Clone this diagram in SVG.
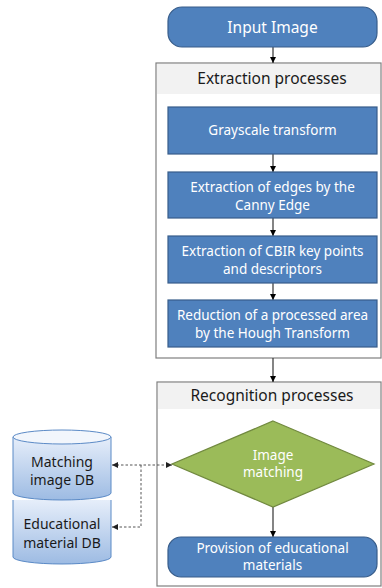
<svg xmlns="http://www.w3.org/2000/svg" width="382" height="588" viewBox="0 0 382 588">
  <defs>
    <linearGradient id="dbFill" x1="0" y1="0" x2="0" y2="1">
      <stop offset="0" stop-color="#e6eefa"/>
      <stop offset="1" stop-color="#9dbbe3"/>
    </linearGradient>
    <marker id="arr" viewBox="0 0 6 6" refX="6" refY="3" markerWidth="6" markerHeight="6" orient="auto-start-reverse" markerUnits="userSpaceOnUse">
      <path d="M0,0 L6,3 L0,6 Z" fill="#000"/>
    </marker>
    <marker id="arrD" viewBox="0 0 6 6" refX="6" refY="3" markerWidth="6" markerHeight="6" orient="auto-start-reverse" markerUnits="userSpaceOnUse">
      <path d="M0,0 L6,3 L0,6 Z" fill="#222"/>
    </marker>
  </defs>
  <style>
    text { font-family: "Noto Sans", "Open Sans", sans-serif; text-anchor: middle; }
    .step { fill: #4f81bd; stroke: #385d8a; stroke-width: 1.2; }
    .wt { fill: #ffffff; font-size: 13.5px; }
    .frame { fill: #ffffff; stroke: #7f7f7f; stroke-width: 1.2; }
    .band { fill: #f2f2f2; }
    .hd { fill: #1a1a1a; font-size: 15.5px; }
    .db { fill: url(#dbFill); stroke: #5b8ac6; stroke-width: 1; }
    .dk { fill: #1a1a1a; font-size: 14px; }
    .flow { stroke: #333; stroke-width: 1.2; fill: none; marker-end: url(#arr); }
    .dash { stroke: #555; stroke-width: 1; stroke-dasharray: 2.5 2; fill: none; }
  </style>

  <!-- containers -->
  <g id="extraction-frame">
    <rect class="frame" x="156" y="63" width="225" height="295"/>
    <rect class="band" x="157" y="64" width="223" height="30"/>
    <text class="hd" x="272" y="84">Extraction processes</text>
  </g>
  <g id="recognition-frame">
    <rect class="frame" x="157" y="382" width="224" height="204"/>
    <rect class="band" x="158" y="383" width="222" height="26"/>
    <text class="hd" x="272" y="401">Recognition processes</text>
  </g>

  <!-- connectors -->
  <g id="connectors">
    <line class="flow" x1="273" y1="47" x2="273" y2="63"/>
    <line class="flow" x1="273" y1="154" x2="273" y2="172"/>
    <line class="flow" x1="273" y1="218" x2="273" y2="236"/>
    <line class="flow" x1="273" y1="283" x2="273" y2="300"/>
    <line class="flow" x1="273" y1="358" x2="273" y2="382"/>
    <line class="flow" x1="273" y1="507" x2="273" y2="537"/>
    <path class="dash" d="M112,465 L172,465" marker-start="url(#arrD)" marker-end="url(#arrD)"/>
    <path class="dash" d="M141,465 L141,527 L112,527" marker-end="url(#arrD)"/>
  </g>

  <!-- nodes -->
  <g id="input-image">
    <rect class="step" x="168" y="7" width="209" height="40" rx="14"/>
    <text class="wt" x="272.5" y="33" style="font-size:15.5px">Input Image</text>
  </g>
  <g id="grayscale">
    <rect class="step" x="168" y="107" width="209" height="47"/>
    <text class="wt" x="272.5" y="135">Grayscale transform</text>
  </g>
  <g id="canny">
    <rect class="step" x="168" y="172" width="209" height="46"/>
    <text class="wt" x="272.5" y="191.5">Extraction of edges by the</text>
    <text class="wt" x="272.5" y="209.5">Canny Edge</text>
  </g>
  <g id="cbir">
    <rect class="step" x="168" y="236" width="209" height="47"/>
    <text class="wt" x="272.5" y="255.5">Extraction of CBIR key points</text>
    <text class="wt" x="272.5" y="273.5">and descriptors</text>
  </g>
  <g id="hough">
    <rect class="step" x="168" y="300" width="209" height="47"/>
    <text class="wt" x="272.5" y="319.5">Reduction of a processed area</text>
    <text class="wt" x="272.5" y="337.5">by the Hough Transform</text>
  </g>
  <g id="image-matching">
    <polygon points="273,421 374,464 273,507 172,464" fill="#9bbb59" stroke="#71893f" stroke-width="1.2"/>
    <text class="wt" x="273" y="460">Image</text>
    <text class="wt" x="273" y="477">matching</text>
  </g>
  <g id="provision">
    <rect class="step" x="168" y="537" width="209" height="40" rx="13"/>
    <text class="wt" x="272.5" y="553">Provision of educational</text>
    <text class="wt" x="272.5" y="570">materials</text>
  </g>
  <g id="educational-db">
    <path class="db" d="M13,500 L13,557 A49,7 0 0 0 111,557 L111,500"/>
    <text class="dk" x="62" y="529">Educational</text>
    <text class="dk" x="62" y="548">material DB</text>
  </g>
  <g id="matching-db">
    <path class="db" d="M13,437 L13,493 A49,7 0 0 0 111,493 L111,437"/>
    <ellipse class="db" cx="62" cy="437" rx="49" ry="7" style="fill:#f2f6fc"/>
    <text class="dk" x="62" y="467">Matching</text>
    <text class="dk" x="62" y="485">image DB</text>
  </g>
</svg>
